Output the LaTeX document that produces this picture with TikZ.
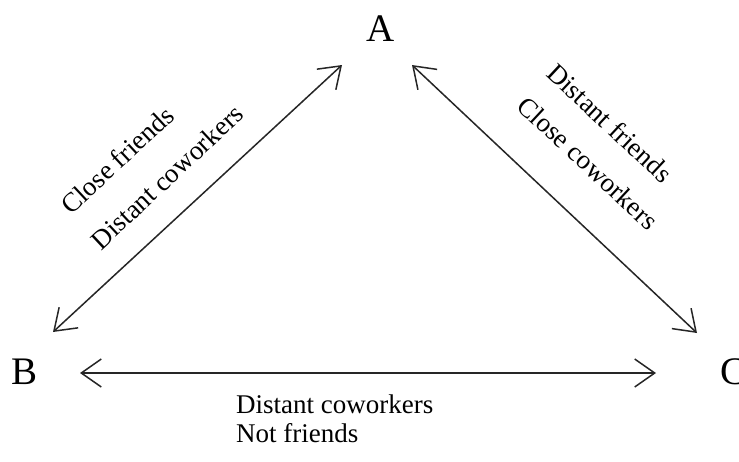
\documentclass[tikz,border=0pt]{standalone}
\usepackage{fontspec}
\setmainfont{Liberation Serif}
\usetikzlibrary{arrows.meta}
\begin{document}
\begin{tikzpicture}[x=1pt,y=-1pt,
  letter/.style={font=\fontsize{39}{39}\selectfont, inner sep=0pt, text=black},
  lbl/.style={font=\fontsize{27}{27}\selectfont, inner sep=0pt, text=black},
  barb/.style={Straight Barb[length=20pt,width=28pt,line width=1.5pt]},
  link/.style={line width=1.5pt, draw=black!85, {Straight Barb[length=20pt,width=28pt,line width=1.5pt]}-{Straight Barb[length=20pt,width=28pt,line width=1.5pt]}}
]
\useasboundingbox (0,0) rectangle (739,461);
\fill[white] (0,0) rectangle (739,461);
\node[letter] (A) at (381,29) {A};
\node[letter] (B) at (25,372) {B};
\node[letter] (C) at (733,372) {C};
\coordinate (ab) at (53,332);
\coordinate (ba) at (342,65);
\coordinate (ac) at (412,65);
\coordinate (ca) at (697,333);
\coordinate (bc) at (80,373);
\coordinate (cb) at (656,373);
\draw[link] (ab) -- (ba);
\draw[link] (ac) -- (ca);
\draw[link] (bc) -- (cb);
\node[lbl, rotate=43] (l1) at (117,160) {Close friends};
\node[lbl, rotate=43] (l2) at (167,177) {Distant coworkers};
\node[lbl, rotate=-43] (r1) at (610,123) {Distant friends};
\node[lbl, rotate=-43] (r2) at (588,163) {Close coworkers};
\node[lbl, anchor=base west] (b1) at (236,413) {Distant coworkers};
\node[lbl, anchor=base west] (b2) at (236,442) {Not friends};
\end{tikzpicture}
\end{document}
